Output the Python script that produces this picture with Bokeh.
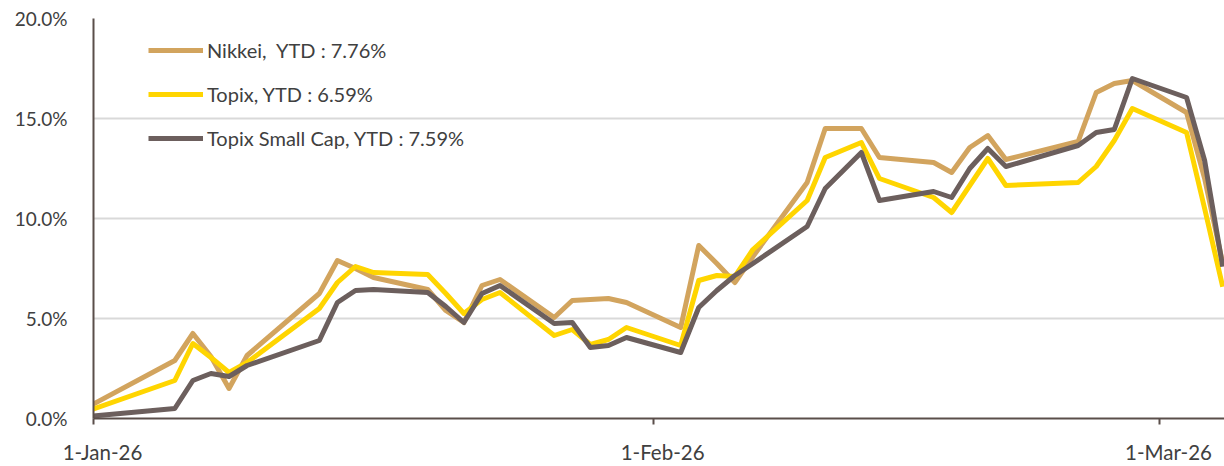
import pandas as pd
from bokeh.plotting import figure
from bokeh.models import (FixedTicker, PrintfTickFormatter, Legend,
                          LegendItem, Range1d)
from bokeh.embed import file_html
from bokeh.resources import INLINE

# ---------------- data ----------------
dates = [
    "2025-12-30",
    "2026-01-05", "2026-01-06", "2026-01-07", "2026-01-08", "2026-01-09",
    "2026-01-13", "2026-01-14", "2026-01-15", "2026-01-16",
    "2026-01-19", "2026-01-20", "2026-01-21", "2026-01-22", "2026-01-23",
    "2026-01-26", "2026-01-27", "2026-01-28", "2026-01-29", "2026-01-30",
    "2026-02-02", "2026-02-03", "2026-02-04", "2026-02-05", "2026-02-06",
    "2026-02-09", "2026-02-10",
    "2026-02-12", "2026-02-13",
    "2026-02-16", "2026-02-17", "2026-02-18", "2026-02-19", "2026-02-20",
    "2026-02-24", "2026-02-25", "2026-02-26", "2026-02-27",
    "2026-03-02", "2026-03-03", "2026-03-04",
]

nikkei = [
    0.0,
    2.9, 4.25, 3.1, 1.5, 3.15,
    6.25, 7.9, 7.5, 7.05,
    6.45, 5.4, 4.8, 6.65, 6.95,
    5.05, 5.9, 5.95, 6.0, 5.8,
    4.55, 8.65, 7.75, 6.8, 8.1,
    11.8, 14.5,
    14.5, 13.05,
    12.8, 12.3, 13.55, 14.15, 12.95,
    13.85, 16.3, 16.75, 16.9,
    15.3, 12.0, 7.76,
]

topix = [
    0.0,
    1.9, 3.75, 3.05, 2.3, 2.8,
    5.5, 6.8, 7.6, 7.3,
    7.2, 6.25, 5.25, 5.95, 6.3,
    4.15, 4.45, 3.7, 3.95, 4.55,
    3.65, 6.9, 7.15, 7.1, 8.45,
    10.9, 13.05,
    13.8, 12.0,
    11.05, 10.3, 11.65, 13.0, 11.65,
    11.8, 12.6, 13.9, 15.5,
    14.3, 10.5, 6.59,
]

small_cap = [
    0.0,
    0.5, 1.9, 2.25, 2.1, 2.65,
    3.9, 5.8, 6.4, 6.45,
    6.3, 5.6, 4.8, 6.25, 6.65,
    4.75, 4.8, 3.55, 3.65, 4.05,
    3.3, 5.55, 6.4, 7.15, 7.75,
    9.6, 11.5,
    13.3, 10.9,
    11.35, 11.05, 12.5, 13.5, 12.6,
    13.65, 14.3, 14.45, 17.0,
    16.05, 12.9, 7.59,
]

series_labels = ["Nikkei,  YTD : 7.76%", "Topix, YTD : 6.59%",
                 "Topix Small Cap, YTD : 7.59%"]
series_colors = ["#D2A45E", "#FFD500", "#6C5F5D"]

tick_dates = ["2026-01-01", "2026-02-01", "2026-03-01"]
tick_labels = ["1-Jan-26", "1-Feb-26", "1-Mar-26"]
y_ticks = [0, 5, 10, 15, 20]

# ---------------- helpers ----------------
origin = pd.Timestamp("2026-01-01")
# each trading day is plotted at the centre of its day
x = [(pd.Timestamp(d) - origin).days + 0.5 for d in dates]
tick_pos = [(pd.Timestamp(d) - origin).days for d in tick_dates]
label_pos = [t + 0.5 for t in tick_pos]

FONT = "Lato"
TXT = "#404040"
AXIS = "#5A4E4A"

p = figure(width=1224, height=466,
           x_range=Range1d(0, 62.6), y_range=Range1d(0, 20),
           output_backend="svg", toolbar_location=None,
           min_border_left=93, min_border_right=0,
           min_border_top=18, min_border_bottom=48)
p.outline_line_color = None
p.background_fill_color = "white"
p.border_fill_color = "white"

# x axis: labels centred on the day, tick marks (minor) at day boundaries
xa = p.xaxis[0]
xa.ticker = FixedTicker(ticks=label_pos, minor_ticks=tick_pos)
xa.major_label_overrides = {pos: lab for pos, lab in zip(label_pos, tick_labels)}
xa.major_tick_line_color = None
xa.major_tick_out = 0
xa.major_tick_in = 0
xa.minor_tick_out = 6
xa.minor_tick_in = 0
xa.minor_tick_line_width = 2
xa.minor_tick_line_color = AXIS
xa.axis_line_width = 2
xa.axis_line_color = AXIS
xa.major_label_standoff = 15
xa.major_label_text_font = FONT
xa.major_label_text_font_size = "20.5px"
xa.major_label_text_color = TXT

ya = p.yaxis[0]
ya.ticker = FixedTicker(ticks=y_ticks)
ya.formatter = PrintfTickFormatter(format="%.1f%%")
ya.major_tick_line_color = None
ya.minor_tick_line_color = None
ya.major_tick_out = 0
ya.major_tick_in = 0
ya.major_label_standoff = 26
ya.axis_line_width = 2
ya.axis_line_color = AXIS
ya.major_label_text_font = FONT
ya.major_label_text_font_size = "19px"
ya.major_label_text_color = TXT

p.xgrid.visible = False
p.ygrid.ticker = FixedTicker(ticks=y_ticks)
p.ygrid.grid_line_color = "#D9D9D9"
p.ygrid.grid_line_width = 2

items = []
for vals, lab, col in zip([nikkei, topix, small_cap], series_labels, series_colors):
    r = p.line(x, vals, line_width=5, line_color=col, line_join="round")
    items.append(LegendItem(label=lab, renderers=[r]))

legend = Legend(items=items, location=(55, 268),
                border_line_color=None, background_fill_alpha=0,
                padding=0, margin=0, spacing=20,
                glyph_width=55, glyph_height=24, label_height=24,
                label_standoff=4, label_text_font=FONT,
                label_text_font_size="20px", label_text_color=TXT)
p.add_layout(legend)

open("out.html", "w").write(file_html(p, INLINE))
